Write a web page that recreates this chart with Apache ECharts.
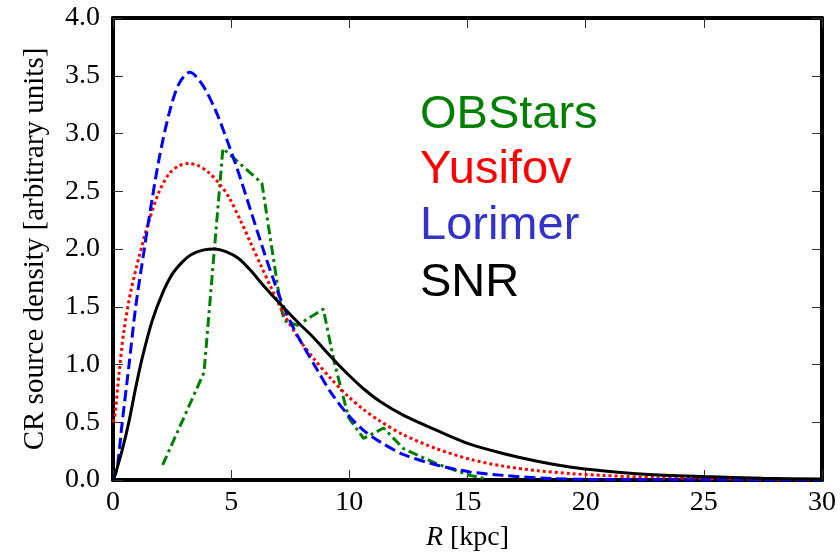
<!DOCTYPE html>
<html>
<head>
<meta charset="utf-8">
<script src="https://cdn.jsdelivr.net/npm/echarts@6/dist/echarts.min.js"></script>
<style>html,body{margin:0;padding:0;background:#fff;}#c{width:840px;height:557px;}</style>
</head>
<body>
<div id="c"></div>
<script>
// Data: [R (kpc), density]
const obstars = [[2.1,0.13],[3.85,0.93],[4.65,2.87],[6.3,2.57],[7.1,1.5],[7.25,1.38],[7.8,1.34],[8.9,1.48],[9.35,1.03],[9.97,0.54],[10.6,0.36],[11.45,0.45],[12.3,0.27],[13.7,0.14],[15.1,0.04],[15.8,0.01]];
const yusifov = [[0,0.5],[0.08,0.56],[0.25,0.91],[0.46,1.29],[0.75,1.63],[1.1,1.93],[1.52,2.24],[1.94,2.49],[2.37,2.65],[2.79,2.72],[3.21,2.74],[3.63,2.72],[4.06,2.66],[4.48,2.57],[4.9,2.45],[5.41,2.24],[5.83,2.05],[6.25,1.86],[6.68,1.67],[7.22,1.44],[7.94,1.2],[8.5,1.05],[9.21,0.88],[9.92,0.73],[10.6,0.61],[11.3,0.51],[12.3,0.39],[13.7,0.27],[15.1,0.18],[16.5,0.12],[18.0,0.08],[19.4,0.055],[20.7,0.04],[23,0.02],[26,0.01],[30,0.003]];
const lorimer = [[0,0],[0.17,0.1],[0.39,0.5],[0.68,1.0],[0.96,1.5],[1.31,1.98],[1.52,2.26],[1.94,2.77],[2.37,3.17],[2.79,3.43],[3.25,3.53],[3.76,3.43],[4.34,3.2],[4.9,2.9],[5.41,2.6],[5.83,2.33],[6.38,1.98],[6.8,1.73],[7.22,1.5],[7.65,1.31],[8.0,1.18],[8.65,0.95],[9.21,0.76],[9.92,0.57],[10.6,0.43],[11.3,0.33],[12.3,0.22],[13.7,0.13],[15.1,0.07],[16.5,0.04],[18.6,0.012],[22,0.002],[30,0]];
const snr = [[0,0],[0.11,0.06],[0.39,0.26],[0.68,0.51],[0.96,0.8],[1.24,1.06],[1.66,1.38],[2.08,1.61],[2.5,1.78],[2.9,1.88],[3.3,1.95],[3.8,1.99],[4.3,2.0],[4.8,1.975],[5.3,1.92],[5.8,1.82],[6.38,1.68],[7.1,1.52],[7.8,1.37],[8.5,1.23],[9.21,1.07],[9.92,0.92],[10.6,0.79],[11.3,0.68],[12.3,0.56],[13.7,0.43],[15.1,0.31],[16.5,0.23],[18.0,0.16],[19.4,0.11],[20.7,0.08],[22.5,0.05],[25,0.03],[27.5,0.015],[30,0.008]];
const seriesNames = ['OBStars','Yusifov','Lorimer','SNR'];
const xTicks = [0,5,10,15,20,25,30];
const yTicks = [0,0.5,1,1.5,2,2.5,3,3.5,4];

const chart = echarts.init(document.getElementById('c'), null, {renderer:'canvas'});
const serif = '"Liberation Serif","DejaVu Serif",serif';
const sans = '"Liberation Sans",Arial,sans-serif';
const axisLine = {show:true, onZero:false, lineStyle:{color:'#000', width:4}};
const tick = {show:true, inside:true, length:10, lineStyle:{color:'#333', width:1}};
const xBase = {type:'value', min:xTicks[0], max:xTicks[xTicks.length-1], interval:5, axisLine, axisTick:tick, splitLine:{show:false}};
const yBase = {type:'value', min:yTicks[0], max:yTicks[yTicks.length-1], interval:0.5, axisLine, axisTick:tick, splitLine:{show:false}};
const option = {
  animation:false,
  backgroundColor:'#fff',
  grid:{left:113, right:18, top:18, bottom:75},
  xAxis:[
    Object.assign({}, xBase, {position:'bottom',
      axisLabel:{color:'#000', fontFamily:serif, fontSize:28, margin:9},
      name:'{i|R} [kpc]', nameLocation:'middle', nameGap:44,
      nameTextStyle:{color:'#000', fontFamily:serif, fontSize:28, rich:{i:{fontStyle:'italic', fontFamily:serif, fontSize:28, color:'#000'}}}}),
    Object.assign({}, xBase, {position:'top', axisLabel:{show:false}})
  ],
  yAxis:[
    Object.assign({}, yBase, {position:'left',
      axisLabel:{color:'#000', fontFamily:serif, fontSize:28, margin:13, formatter:v=>v.toFixed(1)},
      name:'CR source density [arbitrary units]', nameLocation:'middle', nameGap:63,
      nameTextStyle:{color:'#000', fontFamily:serif, fontSize:29}}),
    Object.assign({}, yBase, {position:'right', axisLabel:{show:false}})
  ],
  series:[
    {name:seriesNames[0], type:'line', data:obstars, showSymbol:false, smooth:false,
     lineStyle:{color:'#008000', width:3, type:[10,4,3,4]}, z:3},
    {name:seriesNames[1], type:'line', data:yusifov, showSymbol:false, smooth:0.3,
     lineStyle:{color:'#ff0000', width:3, type:[3,3]}, z:3},
    {name:seriesNames[2], type:'line', data:lorimer, showSymbol:false, smooth:0.3,
     lineStyle:{color:'#0000ff', width:3, type:[11,5]}, z:3},
    {name:seriesNames[3], type:'line', data:snr, showSymbol:false, smooth:0.3,
     lineStyle:{color:'#000000', width:3}, z:3}
  ],
  graphic:[
    {type:'text', left:420, top:92, style:{text:seriesNames[0], fill:'#008000', font:'47px '+sans}},
    {type:'text', left:420, top:147, style:{text:seriesNames[1], fill:'#ff0000', font:'47px '+sans}},
    {type:'text', left:420, top:203, style:{text:seriesNames[2], fill:'#3333cc', font:'47px '+sans}},
    {type:'text', left:420, top:260, style:{text:seriesNames[3], fill:'#000000', font:'47px '+sans}}
  ]
};
chart.setOption(option);
</script>
</body>
</html>
